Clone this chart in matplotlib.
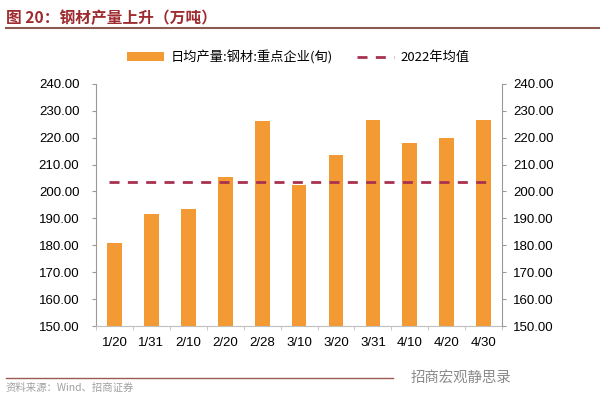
import matplotlib
matplotlib.use("Agg")
import matplotlib.pyplot as plt
from matplotlib.lines import Line2D
from matplotlib.patches import Patch
import numpy as np

plt.rcParams['font.family'] = ['Liberation Sans', 'Noto Sans CJK SC', 'DejaVu Sans']

categories = ["1/20", "1/31", "2/10", "2/20", "2/28", "3/10", "3/20", "3/31", "4/10", "4/20", "4/30"]
daily_output = [180.9, 191.6, 193.4, 205.4, 226.1, 202.4, 213.7, 226.6, 217.9, 220.0, 226.6]
avg_2022 = 203.6
y_ticks = [150, 160, 170, 180, 190, 200, 210, 220, 230, 240]

bar_color = "#F39A34"
line_color = "#A8324E"
title_color = "#9E2B2F"

fig = plt.figure(figsize=(6.0, 4.07), dpi=100)
ax = fig.add_axes([0.16, 0.199, 0.677, 0.595])

x = np.arange(len(categories))
ax.bar(x, [v - 150 for v in daily_output], bottom=150, width=0.4, color=bar_color, zorder=2)
ax.plot([-0.15, len(categories) - 1 + 0.1], [avg_2022, avg_2022], linestyle=(0, (3.6, 3.0)),
        color=line_color, linewidth=2.0, zorder=3)

ax.set_xlim(-0.5, len(categories) - 0.5)
ax.set_ylim(150, 240)
ax.set_yticks(y_ticks)
ax.set_yticklabels([f"{t:.2f}" for t in y_ticks], fontsize=9.5)
ax.set_xticks(x)
ax.set_xticklabels(categories, fontsize=9.5)
ax.tick_params(axis='x', length=0, pad=8)
ax.set_xticks(np.arange(-0.5, len(categories), 1), minor=True)
ax.tick_params(axis='x', which='minor', length=3, color="#BFBFBF", direction='out')
ax.tick_params(axis='y', length=3, color="#999999", direction='out', pad=9)

for s in ['top', 'right']:
    ax.spines[s].set_visible(False)
ax.spines['left'].set_color("#999999")
ax.spines['bottom'].set_color("#BFBFBF")

ax2 = ax.twinx()
ax2.set_ylim(150, 240)
ax2.set_yticks(y_ticks)
ax2.set_yticklabels([f"{t:.2f}" for t in y_ticks], fontsize=9.5)
ax2.tick_params(axis='y', length=3, color="#999999", direction='out', pad=5)
for s in ['top', 'left', 'bottom']:
    ax2.spines[s].set_visible(False)
ax2.spines['right'].set_color("#999999")

handles = [Patch(facecolor=bar_color, edgecolor='none'),
           Line2D([0], [0], color=line_color, linestyle=(0, (3.6, 3.0)), linewidth=2.0)]
labels = ["日均产量:钢材:重点企业(旬)", "2022年均值"]
leg = fig.legend(handles, labels, loc='center', bbox_to_anchor=(0.497, 0.86), ncol=2,
                 frameon=False, handlelength=2.8, handleheight=0.6,
                 columnspacing=1.8, handletextpad=0.5,
                 prop={'family': ['Noto Sans CJK SC', 'DejaVu Sans'], 'size': 9.5})

fig.text(0.01, 0.957, "图 20：钢材产量上升（万吨）", fontsize=11.3, fontweight='bold',
         color=title_color, va='center', ha='left', family=['Noto Sans CJK SC', 'DejaVu Sans'])
fig.add_artist(Line2D([0.01, 1.0], [0.931, 0.931], color="#8C5A50", linewidth=1.5))

fig.add_artist(Line2D([0.01, 0.655], [0.071, 0.071], color="#9A5A55", linewidth=1.0))
fig.text(0.01, 0.047, "资料来源：Wind、招商证券", fontsize=7.5, color="#A0A0A0",
         va='center', ha='left', family=['Noto Sans CJK SC', 'DejaVu Sans'])
fig.text(0.685, 0.071, "招商宏观静思录", fontsize=10.4, color="#8A8A8A",
         va='center', ha='left', family=['Noto Sans CJK SC', 'DejaVu Sans'])

fig.savefig("out.png", dpi=100)
